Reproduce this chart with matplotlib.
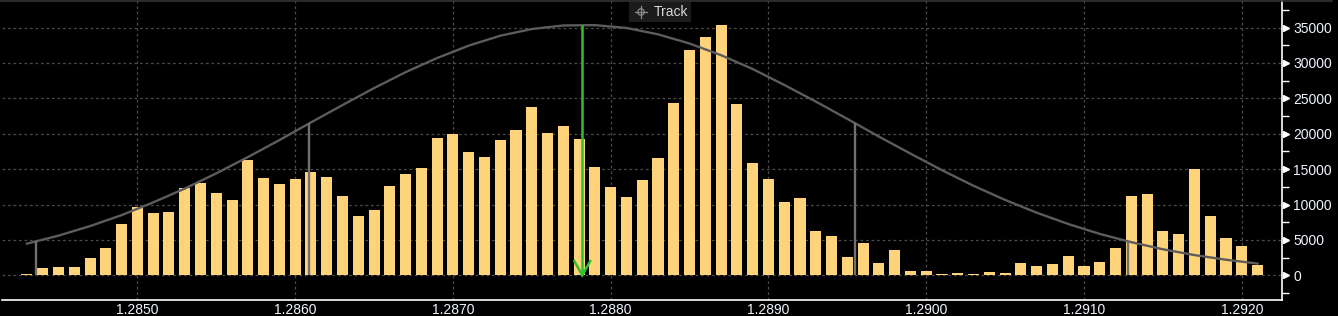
import matplotlib
matplotlib.use("Agg")
import matplotlib.pyplot as plt
import numpy as np
from matplotlib.transforms import blended_transform_factory
from matplotlib.patches import Rectangle, Circle

# ---- data ----
price_start = 1.2843
price_step = 0.0001
volumes = [200, 1000, 1200, 1200, 2500, 3800, 7300, 9700, 8800, 9000,
           12300, 13100, 11600, 10700, 16300, 13800, 12900, 13600, 14600, 13900,
           11200, 8400, 9200, 12600, 14300, 15200, 19400, 20000, 17400, 16700,
           19100, 20500, 23800, 20100, 21100, 19300, 15300, 12500, 11100, 13500,
           16600, 24400, 31900, 33700, 35400, 24200, 15900, 13600, 10400, 10900,
           6300, 5600, 2600, 4600, 1700, 3600, 600, 600, 200, 300,
           200, 500, 300, 1700, 1300, 1600, 2700, 1300, 1900, 3900,
           11200, 11500, 6300, 5800, 15000, 8400, 5300, 4100, 1500]
prices = [round(price_start + i * price_step, 4) for i in range(len(volumes))]

curve_x = [1.2843, 1.2845, 1.2847, 1.2849, 1.2851, 1.2853, 1.2855, 1.2857, 1.2859, 1.2861,
           1.2863, 1.2865, 1.2867, 1.2869, 1.2871, 1.2873, 1.2875, 1.2877, 1.2879, 1.2881,
           1.2883, 1.2885, 1.2887, 1.2889, 1.2891, 1.2893, 1.2895, 1.2897, 1.2899, 1.2901,
           1.2903, 1.2905, 1.2907, 1.2909, 1.2911, 1.2913, 1.2915, 1.2917, 1.2919, 1.2921]
curve_y = [4470, 5600, 6950, 8500, 10300, 12250, 14400, 16700, 19100, 21600,
           24050, 26450, 28700, 30700, 32450, 33850, 34800, 35300, 35350, 34950,
           34050, 32750, 31100, 29150, 26900, 24550, 22100, 19600, 17200, 14850,
           12650, 10650, 8850, 7250, 5850, 4680, 3680, 2860, 2200, 1660]

mean_price = 1.28782
band_prices = [1.28436, 1.28609, 1.28955, 1.29128]

x_ticks = [1.2850, 1.2860, 1.2870, 1.2880, 1.2890, 1.2900, 1.2910, 1.2920]
x_labels = ["1.2850", "1.2860", "1.2870", "1.2880", "1.2890", "1.2900", "1.2910", "1.2920"]
y_ticks = [0, 5000, 10000, 15000, 20000, 25000, 30000, 35000]
y_labels = ["0", "5000", "10000", "15000", "20000", "25000", "30000", "35000"]

# ---- style ----
BG = "#000000"
BAR = "#FFD37A"
CURVE = "#5c5c5c"
BAND = "#707070"
GREEN = "#2FC02F"
GRID = "#4a4a4a"
TXT = "#F0F4FF"

plt.rcParams['font.family'] = ['Liberation Sans', 'DejaVu Sans']

fig = plt.figure(figsize=(13.38, 3.16), dpi=100, facecolor=BG)
ax = fig.add_axes([2 / 1338, 16 / 316, 1280 / 1338, 300 / 316])
ax.set_facecolor(BG)

ax.set_xlim(1.284142, 1.292255)
ax.set_ylim(-3490, 38900)

# grid
for xt in x_ticks:
    ax.axvline(xt, color=GRID, lw=0.9, ls=(0, (2.2, 2.2)), zorder=0)
for yt in y_ticks:
    ax.axhline(yt, color=GRID, lw=0.9, ls=(0, (2.2, 2.2)), zorder=0)

# bars
ax.bar(prices, volumes, width=price_step * 0.7, color=BAR, zorder=2, linewidth=0)

# curve
ax.plot(curve_x, curve_y, color=CURVE, lw=1.7, zorder=3)

# band lines
band_tops = np.interp(band_prices, curve_x, curve_y)
ax.vlines(band_prices, 0, band_tops, color=BAND, lw=1.7, zorder=4)

# green arrow at mean
mean_top = float(np.interp(mean_price, curve_x, curve_y))
ax.vlines([mean_price], 0, mean_top, color=GREEN, lw=1.8, zorder=5)
head_dx = price_step * 0.5
head_dy = 2000
ax.plot([mean_price - head_dx, mean_price, mean_price + head_dx],
        [head_dy, 0, head_dy], color=GREEN, lw=1.8, zorder=5,
        solid_joinstyle='miter')

# axes spines
for s in ['left', 'top']:
    ax.spines[s].set_visible(False)
ax.spines['right'].set_color('white')
ax.spines['bottom'].set_color('white')
ax.spines['right'].set_linewidth(1.2)
ax.spines['bottom'].set_linewidth(1.2)

ax.yaxis.tick_right()
ax.set_yticks(y_ticks)
ax.set_yticklabels(y_labels)
ax.set_yticks([v + 2500 for v in [-5000] + y_ticks], minor=True)
ax.tick_params(axis='y', which='major', length=0, pad=8, labelsize=10, labelcolor=TXT)
ax.tick_params(axis='y', which='minor', length=5, width=1, color='white', direction='out')

ax.set_xticks(x_ticks)
ax.set_xticklabels(x_labels)
ax.tick_params(axis='x', which='both', length=0, pad=2.5, labelsize=10, labelcolor=TXT)

# triangle major tick marks on right axis
tr = blended_transform_factory(ax.transAxes, ax.transData)
ax.plot([1.0035] * len(y_ticks), y_ticks, linestyle='none', marker='>', markersize=5,
        color='white', transform=tr, clip_on=False, zorder=6)

# top border line
fig.add_artist(plt.Line2D([0, 1332 / 1338], [1 - 0.6 / 316, 1 - 0.6 / 316],
                          color="#333333", lw=1.2, transform=fig.transFigure))

# "Track" badge
fig.add_artist(Rectangle((629 / 1338, 1 - 22 / 316), 62 / 1338, 20 / 316,
                         transform=fig.transFigure, facecolor="#1b1b1b",
                         edgecolor='none', zorder=10))
cx, cy = 641 / 1338, 1 - 12 / 316
fig.add_artist(Circle((641, 316 - 12), 3.2, transform=None, fill=False,
                      edgecolor="#8a8a8a", lw=0.9, zorder=11))
fig.add_artist(plt.Line2D([cx - 6 / 1338, cx + 6 / 1338], [cy, cy], color="#8a8a8a",
                          lw=0.9, transform=fig.transFigure, zorder=11))
fig.add_artist(plt.Line2D([cx, cx], [cy - 6 / 316, cy + 6 / 316], color="#8a8a8a",
                          lw=0.9, transform=fig.transFigure, zorder=11))
fig.text(654 / 1338, cy, "Track", color="#d8d8d8", fontsize=10,
         va='center', ha='left', zorder=12)

fig.savefig("out.png", dpi=100, facecolor=BG)
